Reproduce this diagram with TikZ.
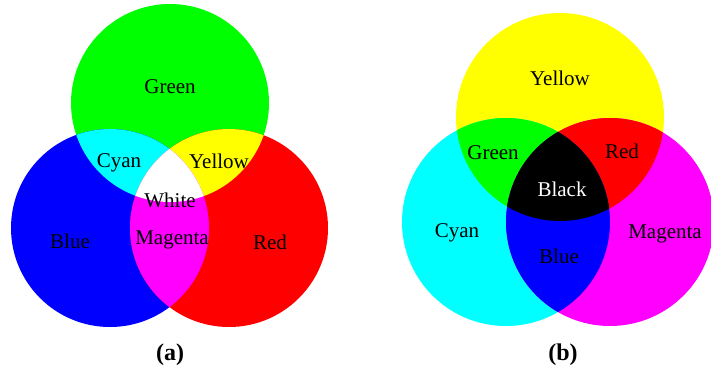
\documentclass[tikz,border=0pt]{standalone}
\usepackage{fontspec}
\setmainfont{Liberation Serif}
\definecolor{cG}{RGB}{0,255,0}
\definecolor{cB}{RGB}{0,0,255}
\definecolor{cR}{RGB}{255,0,0}
\definecolor{cC}{RGB}{0,255,255}
\definecolor{cY}{RGB}{255,255,0}
\definecolor{cM}{RGB}{255,0,255}
\begin{document}
\begin{tikzpicture}[x=1pt,y=-1pt,
  lbl/.style={font=\fontsize{21}{25}\selectfont, text=black, inner sep=0pt},
  captxt/.style={font=\fontsize{24}{28}\selectfont\bfseries, inner sep=0pt}]
\useasboundingbox (0,0) rectangle (711,370);
\fill[white] (0,0) rectangle (711,370);
% ---- (a) additive
\def\ra{99}
\coordinate (gA) at (170,103);
\coordinate (bA) at (110,228);
\coordinate (rA) at (229,228);
\fill[cG] (gA) circle[radius=\ra];
\fill[cB] (bA) circle[radius=\ra];
\fill[cR] (rA) circle[radius=\ra];
\begin{scope}\clip (gA) circle[radius=\ra]; \fill[cC] (bA) circle[radius=\ra];\end{scope}
\begin{scope}\clip (gA) circle[radius=\ra]; \fill[cY] (rA) circle[radius=\ra];\end{scope}
\begin{scope}\clip (bA) circle[radius=\ra]; \fill[cM] (rA) circle[radius=\ra];\end{scope}
\begin{scope}\clip (gA) circle[radius=\ra]; \clip (bA) circle[radius=\ra]; \fill[white] (rA) circle[radius=\ra];\end{scope}
\node[lbl] (tGreenA) at (170,87) {Green};
\node[lbl] (tCyanA) at (119,163) {Cyan};
\node[lbl] (tYellowA) at (219,161) {Yellow};
\node[lbl] (tWhiteA) at (170,200) {White};
\node[lbl] (tBlueA) at (70,241) {Blue};
\node[lbl] (tMagentaA) at (172,240) {Magenta};
\node[lbl] (tRedA) at (270,242) {Red};
\node[captxt] (capA) at (170,355) {(a)};
% ---- (b) subtractive
\def\rb{104}
\coordinate (yB) at (560,117);
\coordinate (cyB) at (506,222);
\coordinate (mB) at (610,222);
\fill[cY] (yB) circle[radius=\rb];
\fill[cC] (cyB) circle[radius=\rb];
\fill[cM] (mB) circle[radius=\rb];
\begin{scope}\clip (yB) circle[radius=\rb]; \fill[cG] (cyB) circle[radius=\rb];\end{scope}
\begin{scope}\clip (yB) circle[radius=\rb]; \fill[cR] (mB) circle[radius=\rb];\end{scope}
\begin{scope}\clip (cyB) circle[radius=\rb]; \fill[cB] (mB) circle[radius=\rb];\end{scope}
\begin{scope}\clip (yB) circle[radius=\rb]; \clip (cyB) circle[radius=\rb]; \fill[black] (mB) circle[radius=\rb];\end{scope}
\node[lbl] (tYellowB) at (560,78) {Yellow};
\node[lbl] (tGreenB) at (493,153) {Green};
\node[lbl] (tRedB) at (622,151) {Red};
\node[lbl, text=white] (tBlackB) at (562,189) {Black};
\node[lbl] (tCyanB) at (457,233) {Cyan};
\node[lbl] (tBlueB) at (559,256) {Blue};
\node[lbl] (tMagentaB) at (665,234) {Magenta};
\node[captxt] (capB) at (563,355) {(b)};
\end{tikzpicture}
\end{document}
